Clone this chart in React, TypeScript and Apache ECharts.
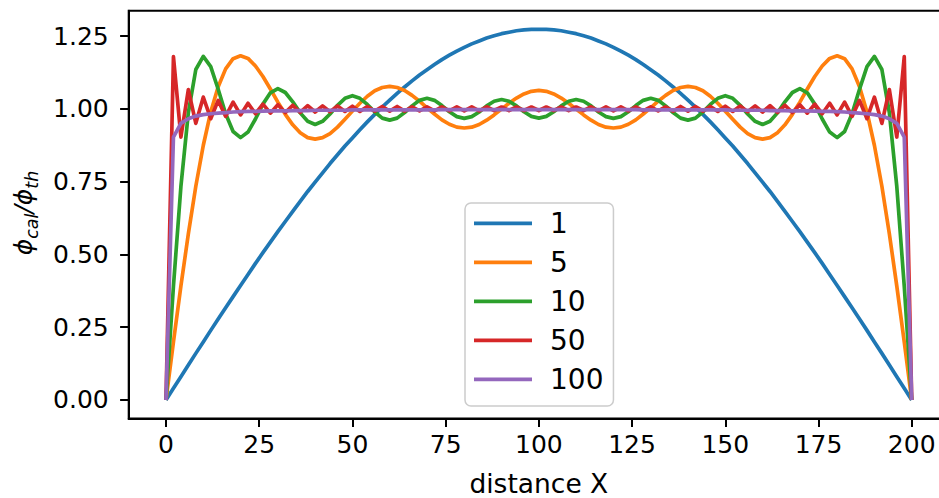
import React, { useEffect, useRef } from "react";
import * as echarts from "echarts";

const xs = [
  0, 2, 4, 6, 8, 10, 12, 14, 16, 18, 20, 22, 24, 26, 28, 30, 32, 34, 36, 38,
  40, 42, 44, 46, 48, 50, 52, 54, 56, 58, 60, 62, 64, 66, 68, 70, 72, 74, 76, 78,
  80, 82, 84, 86, 88, 90, 92, 94, 96, 98, 100, 102, 104, 106, 108, 110, 112, 114, 116, 118,
  120, 122, 124, 126, 128, 130, 132, 134, 136, 138, 140, 142, 144, 146, 148, 150, 152, 154, 156, 158,
  160, 162, 164, 166, 168, 170, 172, 174, 176, 178, 180, 182, 184, 186, 188, 190, 192, 194, 196, 198, 200,
];

const s1 = [
  0, 0.040, 0.080, 0.120, 0.160, 0.199, 0.239, 0.278, 0.317, 0.355,
  0.393, 0.431, 0.469, 0.506, 0.542, 0.578, 0.613, 0.648, 0.682, 0.716,
  0.748, 0.780, 0.812, 0.842, 0.872, 0.900, 0.928, 0.955, 0.981, 1.006,
  1.030, 1.053, 1.075, 1.096, 1.116, 1.134, 1.152, 1.169, 1.184, 1.198,
  1.211, 1.223, 1.233, 1.243, 1.251, 1.258, 1.263, 1.268, 1.271, 1.273,
  1.273,
  1.273, 1.271, 1.268, 1.263, 1.258, 1.251, 1.243, 1.233, 1.223, 1.211,
  1.198, 1.184, 1.169, 1.152, 1.134, 1.116, 1.096, 1.075, 1.053, 1.030,
  1.006, 0.981, 0.955, 0.928, 0.900, 0.872, 0.842, 0.812, 0.780, 0.748,
  0.716, 0.682, 0.648, 0.613, 0.578, 0.542, 0.506, 0.469, 0.431, 0.393,
  0.355, 0.317, 0.278, 0.239, 0.199, 0.160, 0.120, 0.080, 0.040, 0,
];

const s5 = [
  0, 0.199, 0.391, 0.571, 0.734, 0.874, 0.989, 1.076, 1.137, 1.172,
  1.182, 1.173, 1.147, 1.111, 1.068, 1.023, 0.981, 0.945, 0.918, 0.901,
  0.896, 0.901, 0.915, 0.937, 0.964, 0.992, 1.019, 1.043, 1.062, 1.073,
  1.077, 1.073, 1.063, 1.046, 1.026, 1.003, 0.982, 0.962, 0.947, 0.937,
  0.934, 0.937, 0.946, 0.961, 0.979, 0.999, 1.019, 1.037, 1.051, 1.060,
  1.063,
  1.060, 1.051, 1.037, 1.019, 0.999, 0.979, 0.961, 0.946, 0.937, 0.934,
  0.937, 0.947, 0.962, 0.982, 1.003, 1.026, 1.046, 1.063, 1.073, 1.077,
  1.073, 1.062, 1.043, 1.019, 0.992, 0.964, 0.937, 0.915, 0.901, 0.896,
  0.901, 0.918, 0.945, 0.981, 1.023, 1.068, 1.111, 1.147, 1.173, 1.182,
  1.172, 1.137, 1.076, 0.989, 0.874, 0.734, 0.571, 0.391, 0.199, 0,
];

const s10 = [
  0, 0.391, 0.733, 0.987, 1.135, 1.180, 1.145, 1.067, 0.983, 0.922,
  0.901, 0.920, 0.965, 1.016, 1.055, 1.069, 1.056, 1.024, 0.986, 0.957,
  0.946, 0.957, 0.982, 1.012, 1.036, 1.045, 1.036, 1.015, 0.989, 0.968,
  0.961, 0.968, 0.987, 1.010, 1.029, 1.036, 1.029, 1.011, 0.990, 0.973,
  0.967, 0.973, 0.989, 1.010, 1.026, 1.032, 1.026, 1.010, 0.990, 0.974,
  0.968,
  0.974, 0.990, 1.010, 1.026, 1.032, 1.026, 1.010, 0.989, 0.973, 0.967,
  0.973, 0.990, 1.011, 1.029, 1.036, 1.029, 1.010, 0.987, 0.968, 0.961,
  0.968, 0.989, 1.015, 1.036, 1.045, 1.036, 1.012, 0.982, 0.957, 0.946,
  0.957, 0.986, 1.024, 1.056, 1.069, 1.055, 1.016, 0.965, 0.920, 0.901,
  0.922, 0.983, 1.067, 1.145, 1.180, 1.135, 0.987, 0.733, 0.391, 0,
];

const s50 = [
  0, 1.179, 0.903, 1.066, 0.950, 1.040, 0.966, 1.029, 0.974, 1.023,
  0.979, 1.019, 0.983, 1.016, 0.985, 1.014, 0.987, 1.012, 0.988, 1.011,
  0.989, 1.010, 0.990, 1.010, 0.991, 1.009, 0.991, 1.008, 0.992, 1.008,
  0.992, 1.008, 0.992, 1.007, 0.993, 1.007, 0.993, 1.007, 0.993, 1.007,
  0.993, 1.007, 0.993, 1.007, 0.994, 1.006, 0.994, 1.006, 0.994, 1.006,
  0.994,
  1.006, 0.994, 1.006, 0.994, 1.006, 0.994, 1.007, 0.993, 1.007, 0.993,
  1.007, 0.993, 1.007, 0.993, 1.007, 0.993, 1.007, 0.992, 1.008, 0.992,
  1.008, 0.992, 1.008, 0.991, 1.009, 0.991, 1.010, 0.990, 1.010, 0.989,
  1.011, 0.988, 1.012, 0.987, 1.014, 0.985, 1.016, 0.983, 1.019, 0.979,
  1.023, 0.974, 1.029, 0.966, 1.040, 0.950, 1.066, 0.903, 1.179, 0,
];

const s100 = [
  0, 0.903, 0.950, 0.966, 0.975, 0.980, 0.983, 0.985, 0.987, 0.989,
  0.990, 0.991, 0.991, 0.992, 0.993, 0.993, 0.993, 0.994, 0.994, 0.994,
  0.995, 0.995, 0.995, 0.995, 0.995, 0.996, 0.996, 0.996, 0.996, 0.996,
  0.996, 0.996, 0.996, 0.996, 0.996, 0.996, 0.996, 0.997, 0.997, 0.997,
  0.997, 0.997, 0.997, 0.997, 0.997, 0.997, 0.997, 0.997, 0.997, 0.997,
  0.997,
  0.997, 0.997, 0.997, 0.997, 0.997, 0.997, 0.997, 0.997, 0.997, 0.997,
  0.997, 0.997, 0.997, 0.996, 0.996, 0.996, 0.996, 0.996, 0.996, 0.996,
  0.996, 0.996, 0.996, 0.996, 0.996, 0.995, 0.995, 0.995, 0.995, 0.995,
  0.994, 0.994, 0.994, 0.993, 0.993, 0.993, 0.992, 0.991, 0.991, 0.990,
  0.989, 0.987, 0.985, 0.983, 0.980, 0.975, 0.966, 0.950, 0.903, 0,
];

const seriesNames = ["1", "5", "10", "50", "100"];
const seriesValues = [s1, s5, s10, s50, s100];
const colors = ["#1f77b4", "#ff7f0e", "#2ca02c", "#d62728", "#9467bd"];
const xTicks = [0, 25, 50, 75, 100, 125, 150, 175, 200];
const yTicks = [0, 0.25, 0.5, 0.75, 1.0, 1.25];

const FONT = "DejaVu Sans";

export default function App() {
  const ref = useRef<HTMLDivElement>(null);
  useEffect(() => {
    if (!ref.current) return;
    const chart = echarts.init(ref.current, null, { renderer: "svg" });
    chart.setOption({
      animation: false,
      backgroundColor: "#ffffff",
      grid: {
        left: 128.7,
        top: 10.7,
        width: 820.3,
        height: 407.8,
        show: true,
        borderColor: "#000",
        borderWidth: 2,
        backgroundColor: "transparent",
        containLabel: false,
        outerBoundsMode: "none",
      },
      xAxis: {
        type: "value",
        min: -10,
        max: 210,
        axisLine: { show: true, onZero: false, lineStyle: { color: "#000", width: 2 } },
        axisTick: { show: true, length: 8.6, lineStyle: { color: "#000", width: 2 }, customValues: xTicks },
        axisLabel: {
          customValues: xTicks,
          fontSize: 25,
          fontFamily: FONT,
          color: "#000",
          margin: 13,
        },
        splitLine: { show: false },
        name: "distance X",
        nameLocation: "middle",
        nameGap: 51,
        nameTextStyle: { fontSize: 26.5, fontFamily: FONT, color: "#000" },
      },
      yAxis: {
        type: "value",
        min: -0.06366,
        max: 1.3369,
        axisLine: { show: true, onZero: false, lineStyle: { color: "#000", width: 2 } },
        axisTick: { show: true, length: 8.6, lineStyle: { color: "#000", width: 2 }, customValues: yTicks },
        axisLabel: {
          customValues: yTicks,
          fontSize: 25,
          fontFamily: FONT,
          color: "#000",
          margin: 20,
          formatter: (v: number) => v.toFixed(2),
        },
        splitLine: { show: false },
      },
      legend: {
        orient: "vertical",
        left: 465,
        top: 203,
        padding: [6.3, 10, 12.7, 9],
        itemWidth: 58,
        itemHeight: 3.7,
        itemGap: 11,
        icon: "rect",
        backgroundColor: "rgba(255,255,255,0.8)",
        borderColor: "#cccccc",
        borderWidth: 1.5,
        borderRadius: 6,
        data: seriesNames,
        textStyle: {
          fontSize: 28,
          fontFamily: FONT,
          color: "#000",
          padding: [0, 0, 0, 13],
        },
      },
      graphic: [
        {
          type: "text",
          x: 23,
          y: 213,
          rotation: Math.PI / 2,
          style: {
            text: "{p|ϕ}{s|cal}{p|/ϕ}{s|th}",
            align: "center",
            verticalAlign: "middle",
            fill: "#000",
            rich: {
              p: { fontSize: 25, fontFamily: FONT, fontStyle: "italic", lineHeight: 25, verticalAlign: "top", fill: "#000" },
              s: { fontSize: 17.5, fontFamily: FONT, fontStyle: "italic", lineHeight: 17.5, verticalAlign: "top", padding: [12, 0, 0, 0], fill: "#000" },
            },
          },
        },
      ],
      series: seriesNames.map((name, k) => ({
        name,
        type: "line",
        showSymbol: false,
        symbol: "none",
        color: colors[k],
        lineStyle: { color: colors[k], width: 3.7, join: "round", cap: "butt" },
        data: xs.map((x, i) => [x, seriesValues[k][i]]),
      })),
    });
    return () => chart.dispose();
  }, []);
  return (
    <div
      ref={ref}
      style={{ position: "fixed", left: 0, top: 0, width: 939, height: 498 }}
    />
  );
}
